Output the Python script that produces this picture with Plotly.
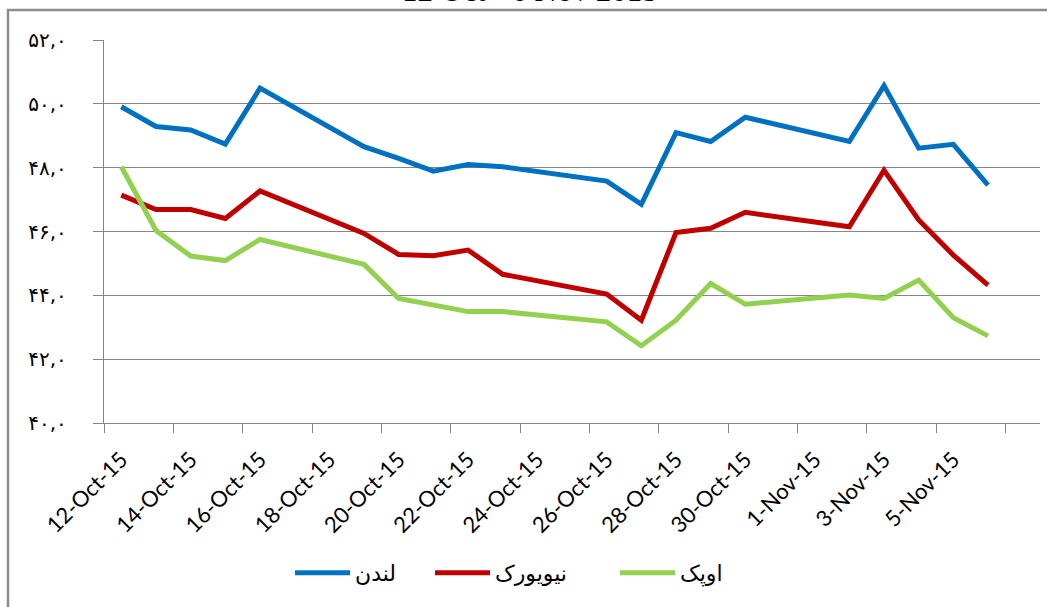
import plotly.graph_objects as go

dates = ["2015-10-12", "2015-10-13", "2015-10-14", "2015-10-15", "2015-10-16",
         "2015-10-19", "2015-10-20", "2015-10-21", "2015-10-22", "2015-10-23",
         "2015-10-26", "2015-10-27", "2015-10-28", "2015-10-29", "2015-10-30",
         "2015-11-02", "2015-11-03", "2015-11-04", "2015-11-05", "2015-11-06"]

london = [49.91, 49.29, 49.18, 48.74, 50.49,
          48.66, 48.29, 47.89, 48.10, 48.03,
          47.58, 46.85, 49.10, 48.82, 49.58,
          48.82, 50.57, 48.61, 48.73, 47.45]

newyork = [47.14, 46.69, 46.69, 46.41, 47.27,
           45.94, 45.28, 45.24, 45.42, 44.66,
           44.04, 43.22, 45.97, 46.10, 46.60,
           46.15, 47.92, 46.36, 45.26, 44.32]

opec = [48.03, 46.03, 45.23, 45.09, 45.75,
        44.97, 43.90, 43.69, 43.49, 43.49,
        43.17, 42.42, 43.22, 44.37, 43.72,
        44.01, 43.90, 44.48, 43.30, 42.73]

series_names = ["لندن", "نیویورک", "اوپک"]
series_colors = ["#0070C0", "#C00000", "#92D050"]

x_tickvals = ["2015-10-12", "2015-10-14", "2015-10-16", "2015-10-18", "2015-10-20",
              "2015-10-22", "2015-10-24", "2015-10-26", "2015-10-28", "2015-10-30",
              "2015-11-01", "2015-11-03", "2015-11-05"]

y_ticks = [40, 42, 44, 46, 48, 50, 52]
y_ticktext = ["۴۰,۰", "۴۲,۰", "۴۴,۰", "۴۶,۰", "۴۸,۰", "۵۰,۰", "۵۲,۰"]

title_text = "12 Oct - 6 Nov 2015"

# layout geometry (pixels)
L, R, T, B = 104, 7, 40, 184
PW, PH = 1047 - L - R, 607 - T - B
legend_line_starts = [297, 437, 622]
legend_ids = ["legend", "legend2", "legend3"]

fig = go.Figure()
for name, vals, col, lg in zip(series_names, [london, newyork, opec], series_colors, legend_ids):
    fig.add_trace(go.Scatter(x=dates, y=vals, name=name, mode="lines",
                             line=dict(color=col, width=5), legend=lg))

grid = "#868686"
legend_style = dict(orientation="h", yanchor="middle", y=-(573 - 423) / PH, xanchor="left",
                    font=dict(family="DejaVu Sans", size=22, color="black"),
                    itemwidth=55, bgcolor="rgba(0,0,0,0)")
legends = {}
for lg, xs in zip(legend_ids, legend_line_starts):
    legends[lg] = dict(legend_style, x=(xs - 7 - L) / PW)

fig.update_layout(
    width=1047, height=607,
    margin=dict(l=L, r=R, t=T, b=B, autoexpand=False),
    paper_bgcolor="white", plot_bgcolor="white",
    showlegend=True,
    **legends,
    xaxis=dict(
        type="date", automargin=False,
        range=["2015-10-11 12:00", "2015-11-07 12:00"],
        tickvals=x_tickvals,
        tickformat="%-d-%b-%y", tickangle=-45,
        ticks="", showgrid=False, zeroline=False,
        showline=True, linecolor=grid, linewidth=1.3,
        ticklabelstandoff=14,
        tickfont=dict(family="Lato", size=22, color="black"),
        minor=dict(tick0="2015-10-11 12:00", dtick=2 * 86400000, ticks="outside",
                   ticklen=9, tickcolor=grid, tickwidth=1.3, showgrid=False),
    ),
    yaxis=dict(
        range=[40, 52], tickvals=y_ticks, ticktext=y_ticktext, automargin=False,
        ticks="outside", ticklen=10, tickcolor=grid, tickwidth=1.3,
        showgrid=True, gridcolor=grid, gridwidth=1.3,
        showline=True, linecolor=grid, linewidth=1.3, zeroline=False,
        ticklabelstandoff=22,
        tickfont=dict(family="DejaVu Sans", size=20, color="black"),
    ),
    shapes=[dict(type="rect", xref="paper", yref="paper",
                 x0=(8 - L) / PW, x1=(1055 - L) / PW,
                 y0=-(620 - 423) / PH, y1=1 + (T - 10) / PH,
                 line=dict(color="#8c8c8c", width=2.5), fillcolor="rgba(0,0,0,0)",
                 layer="below")],
    annotations=[dict(text=title_text, xref="paper", yref="paper",
                      x=(530 - L) / PW, y=1 + (T + 9) / PH,
                      xanchor="center", yanchor="middle", showarrow=False,
                      font=dict(family="Liberation Serif", size=31, color="black"))],
)

fig.write_html("out.html", config={"displayModeBar": False},
               post_script="document.body.style.margin='0';document.body.style.overflow='hidden';")
